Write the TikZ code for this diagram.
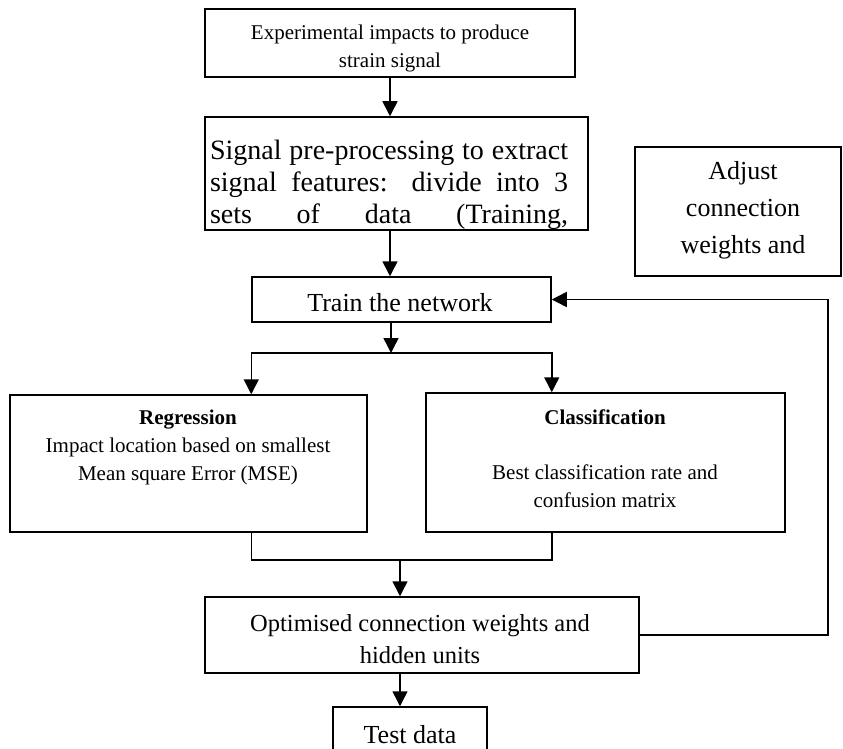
\documentclass[tikz,border=0pt]{standalone}
\usepackage{fontspec}
\setmainfont{Liberation Serif}
\usetikzlibrary{arrows.meta,calc}
\begin{document}
\begin{tikzpicture}[x=1pt,y=-1pt,
  box/.style={draw,line width=1.5pt,inner sep=0pt,fill=none},
  arr/.style={line width=1.5pt,-{Triangle[length=15pt,width=15pt]}},
  ln/.style={line width=1.5pt},
  txt/.style={inner sep=0pt,align=center}]
\clip (0,0) rectangle (843,749);
% boxes
\node[box,minimum width=370pt,minimum height=68pt] (b1) at (390,43) {};
\node[box,minimum width=383pt,minimum height=113pt] (b2) at (396.5,173.5) {};
\node[box,minimum width=206pt,minimum height=129pt] (adj) at (738,211.5) {};
\node[box,minimum width=299pt,minimum height=45pt] (train) at (401.5,299.5) {};
\node[box,minimum width=357pt,minimum height=137pt] (reg) at (188.5,463.5) {};
\node[box,minimum width=359pt,minimum height=139pt] (cls) at (605.5,462.5) {};
\node[box,minimum width=434pt,minimum height=76pt] (opt) at (422,635) {};
\node[box,minimum width=154pt,minimum height=63pt] (test) at (410,738.5) {};
% texts
\node[txt,font=\fontsize{21}{28}\selectfont] (t1) at (390,48) {Experimental impacts to produce\\strain signal};
\begin{scope}
\clip ([shift={(1,-1)}]b2.south west) rectangle ([shift={(-1,1)}]b2.north east);
\node[txt,font=\fontsize{28}{32}\selectfont] (t2) at (389,185)
  {\makebox[358pt][s]{Signal pre-processing to extract}\\
   \makebox[358pt][s]{signal features: divide into 3}\\
   \makebox[358pt][s]{sets of data (Training,}};
\end{scope}
\node[txt,font=\fontsize{26}{37}\selectfont] (tadj) at (743,210) {Adjust\\connection\\weights and};
\node[txt,font=\fontsize{26}{30}\selectfont] (ttrain) at (400,303) {Train the network};
\node[txt,font=\fontsize{21}{28}\selectfont] (treg) at (188,447) {\textbf{Regression}\\Impact location based on smallest\\Mean square Error (MSE)};
\node[txt,font=\fontsize{21}{28}\selectfont] (tclsh) at (605,417) {\textbf{Classification}};
\node[txt,font=\fontsize{21}{28}\selectfont] (tcls) at (605,486) {Best classification rate and\\confusion matrix};
\node[txt,font=\fontsize{24.5}{32}\selectfont] (topt) at (420,639) {Optimised connection weights and\\hidden units};
\node[txt,font=\fontsize{26}{30}\selectfont] (ttest) at (410,735) {Test data};
% connectors
\coordinate (split) at (391,353);
\coordinate (merge) at (400,560);
\coordinate (fb) at (828,500);
\draw[arr] (b1.south) -- (b1.south |- b2.north);
\draw[arr] (b2.south -| b1.south) -- (b1.south |- train.north);
\draw[arr] (train.south -| split) -- (split);
\draw[arr] (split) -| (train.west |- reg.north);
\draw[arr] (split) -| (train.east |- cls.north);
\draw[ln] (train.west |- reg.south) |- (merge) -| (train.east |- cls.south);
\draw[arr] (merge) -- (merge |- opt.north);
\draw[arr] (opt.south -| merge) -- (merge |- test.north);
\draw[arr] (opt.east) -- (fb |- opt.east) -- (fb |- train.east) -- (train.east);
\end{tikzpicture}
\end{document}
